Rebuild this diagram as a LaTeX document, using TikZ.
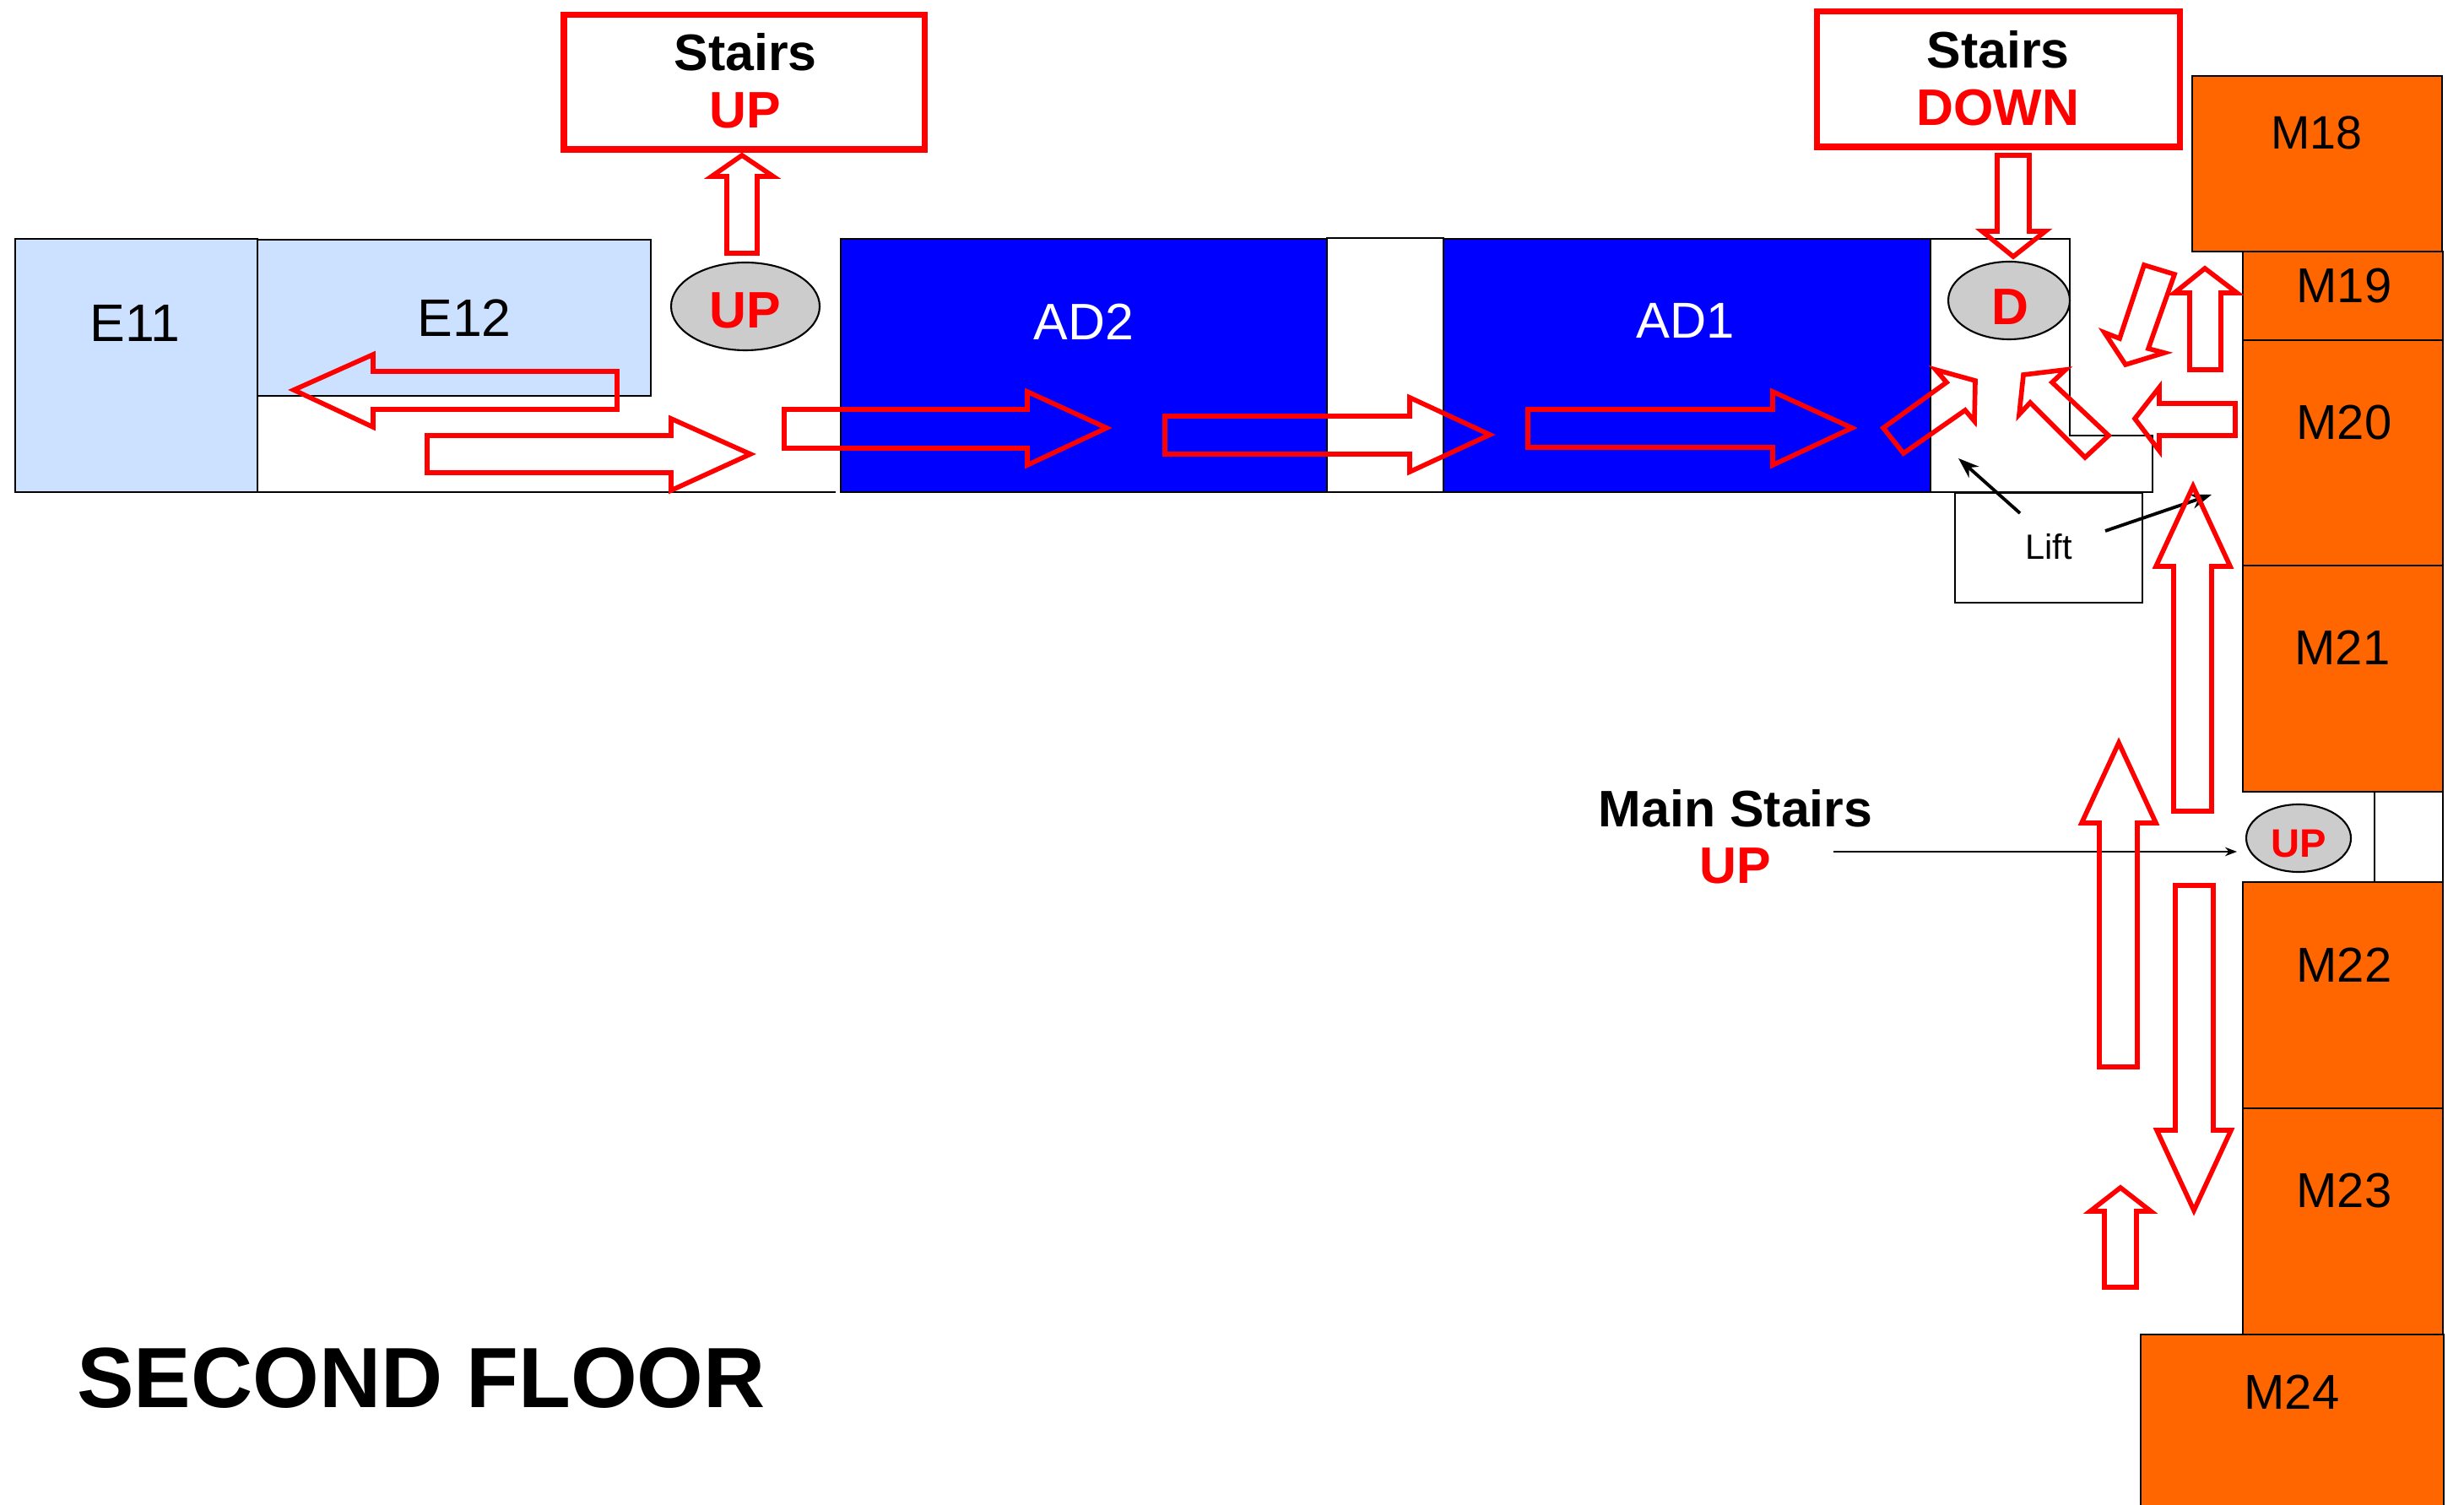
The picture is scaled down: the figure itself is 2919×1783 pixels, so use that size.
\documentclass[tikz,border=0pt]{standalone}
\usepackage{fontspec}
\setmainfont{Liberation Sans}
\usepackage{xcolor}
\usetikzlibrary{arrows.meta}
\definecolor{roomblue}{HTML}{CCE0FF}
\definecolor{roomorange}{HTML}{FF6600}
\definecolor{stairgray}{HTML}{CCCCCC}
\tikzset{
	wall/.style={draw=black,line width=.75pt},
	flow/.style={draw=red,line width=1.6pt,miter limit=8},
	signbox/.style={draw=red,line width=2pt},
	stairdisc/.style={draw=black,line width=.6pt,fill=stairgray},
	roomlabel/.style={font=\fontsize{16.5}{16.5}\selectfont,inner sep=0pt},
	wardlabel/.style={font=\fontsize{17.8}{17.8}\selectfont,inner sep=0pt},
	signlabel/.style={font=\fontsize{17.3}{17.3}\selectfont\bfseries,inner sep=0pt},
}

\begin{document}
\begin{tikzpicture}[x=0.01cm,y=-0.01cm]
		\useasboundingbox (0,0) rectangle (2919,1783);
		%east wing
		\draw[wall,fill=roomblue] (18,283) rectangle (305,583);
		\draw[wall,fill=roomblue] (305,284) rectangle (771,469);
		\draw[wall] (305,583) -- (990,583);
		%admin rooms
		\draw[wall,fill=blue] (996,283) rectangle (1572,583);
		\draw[wall] (1572,282) rectangle (1710,583);
		\draw[wall,fill=blue] (1710,283) rectangle (2287,583);
		%landing
		\draw[wall] (2287,283) -- (2452,283) -- (2452,516) -- (2550,516) -- (2550,583) -- (2287,583);
		\draw[wall] (2316,584) rectangle (2538,714);
		%main wing
		\draw[wall,fill=roomorange] (2597,90) rectangle (2893,298);
		\draw[wall,fill=roomorange] (2657,298) rectangle (2894,403);
		\draw[wall,fill=roomorange] (2657,403) rectangle (2894,670);
		\draw[wall,fill=roomorange] (2657,670) rectangle (2894,938);
		\draw[wall] (2813,938) rectangle (2894,1045);
		\draw[wall,fill=roomorange] (2657,1045) rectangle (2894,1313);
		\draw[wall,fill=roomorange] (2657,1313) rectangle (2894,1581);
		\draw[wall,fill=roomorange] (2536,1581) rectangle (2895,1790);
		%stair signs
		\draw[signbox] (668,18) rectangle (1095,177);
		\draw[signbox] (2152,14) rectangle (2582,174);
		%stair discs
		\draw[stairdisc] (883,363) ellipse (88 and 52);
		\draw[stairdisc] (2380,356) ellipse (72 and 46);
		\draw[stairdisc] (2723,993) ellipse (62 and 40);

		%nodes
		\node[wardlabel] (e11) at (160,383) {E11};
		\node[wardlabel] (e12) at (550,377) {E12};
		\node[roomlabel,white,font=\fontsize{17.3}{17.3}\selectfont] (ad2) at (1284,381) {AD2};
		\node[roomlabel,white,font=\fontsize{17}{17}\selectfont] (ad1) at (1997,380) {AD1};
		\node[roomlabel,font=\fontsize{15.8}{15.8}\selectfont] (m18) at (2744,157) {M18};
		\node[roomlabel] (m19) at (2777,339) {M19};
		\node[roomlabel] (m20) at (2777,501) {M20};
		\node[roomlabel] (m21) at (2775,767) {M21};
		\node[roomlabel] (m22) at (2777,1143) {M22};
		\node[roomlabel] (m23) at (2777,1411) {M23};
		\node[roomlabel] (m24) at (2715,1649) {M24};
		\node[signlabel] (stairsup) at (883,62) {Stairs};
		\node[signlabel,red] (stairsupb) at (883,131) {UP};
		\node[signlabel] (stairsdown) at (2367,59) {Stairs};
		\node[signlabel,red] (stairsdownb) at (2367,128) {DOWN};
		\node[signlabel,red] (upwestlabel) at (883,368) {UP};
		\node[signlabel,red] (dlabel) at (2381,364) {D};
		\node[font=\fontsize{13.4}{13.4}\selectfont\bfseries,red,inner sep=0pt] (upmain) at (2723,1000) {UP};
		\node[signlabel] (mainstairs) at (2056,958) {Main Stairs};
		\node[signlabel,red] (mainstairsb) at (2056,1026) {UP};
		\node[font=\fontsize{11.8}{11.8}\selectfont,inner sep=0pt] (lift) at (2427,648) {Lift};
		\node[font=\fontsize{28.8}{28.8}\selectfont\bfseries,inner sep=0pt] (floor) at (499,1633) {SECOND FLOOR};

		%pointers
		\coordinate (liftA) at (2393,608);
		\coordinate (liftB) at (2320,543);
		\coordinate (liftC) at (2494,629);
		\coordinate (liftD) at (2620,586);
		\coordinate (mainA) at (2172,1009);
		\coordinate (mainB) at (2650,1009);
		\draw[-{Stealth[length=7pt,width=5pt]},line width=1.1pt] (liftA) -- (liftB);
		\draw[-{Stealth[length=7pt,width=5pt]},line width=1.1pt] (liftC) -- (liftD);
		\draw[-{Stealth[length=4pt,width=3pt]},line width=.4pt] (mainA) -- (mainB);

		%route along the east wing
		\draw[flow] (879,184) -- (916,209) -- (897,209) -- (897,300) -- (861,300) -- (861,209) -- (843,209) -- cycle;
		\draw[flow] (348,462) -- (442,420) -- (442,440) -- (731,440) -- (731,485) -- (442,485) -- (442,506) -- cycle;
		\draw[flow] (889,538) -- (795,496) -- (795,516) -- (506,516) -- (506,560) -- (795,560) -- (795,581) -- cycle;
		\draw[flow] (1311,507) -- (1217,464) -- (1217,485) -- (929,485) -- (929,531) -- (1217,531) -- (1217,551) -- cycle;
		\draw[flow] (1765,515) -- (1670,471) -- (1670,493) -- (1380,493) -- (1380,538) -- (1670,538) -- (1670,559) -- cycle;
		\draw[flow] (2194,507) -- (2100,464) -- (2100,485) -- (1810,485) -- (1810,530) -- (2100,530) -- (2100,551) -- cycle;
		%route around the landing
		\draw[flow] (2385,304) -- (2348,274) -- (2366,274) -- (2366,184) -- (2404,184) -- (2404,274) -- (2423,274) -- cycle;
		\draw[flow] (2340,451) -- (2293,438) -- (2306,453) -- (2231,507) -- (2255,537) -- (2328,486) -- (2339,499) -- cycle;
		\draw[flow] (2397,444) -- (2447,438) -- (2431,453) -- (2498,516) -- (2470,542) -- (2405,477) -- (2392,491) -- cycle;
		\draw[flow] (2529,496) -- (2558,459) -- (2558,478) -- (2648,478) -- (2648,516) -- (2558,516) -- (2558,534) -- cycle;
		\draw[flow] (2612,318) -- (2650,347) -- (2631,347) -- (2631,438) -- (2594,438) -- (2594,347) -- (2576,347) -- cycle;
		\draw[flow] (2518,432) -- (2493,394) -- (2511,401) -- (2540,314) -- (2576,325) -- (2545,413) -- (2564,418) -- cycle;
		%route along the main wing
		\draw[flow] (2598,576) -- (2642,671) -- (2620,671) -- (2620,961) -- (2575,961) -- (2575,671) -- (2554,671) -- cycle;
		\draw[flow] (2510,880) -- (2554,975) -- (2532,975) -- (2532,1264) -- (2487,1264) -- (2487,975) -- (2466,975) -- cycle;
		\draw[flow] (2599,1434) -- (2555,1339) -- (2577,1339) -- (2577,1049) -- (2622,1049) -- (2622,1339) -- (2643,1339) -- cycle;
		\draw[flow] (2512,1407) -- (2548,1435) -- (2531,1435) -- (2531,1525) -- (2493,1525) -- (2493,1435) -- (2476,1435) -- cycle;
	\end{tikzpicture}
\end{document}
